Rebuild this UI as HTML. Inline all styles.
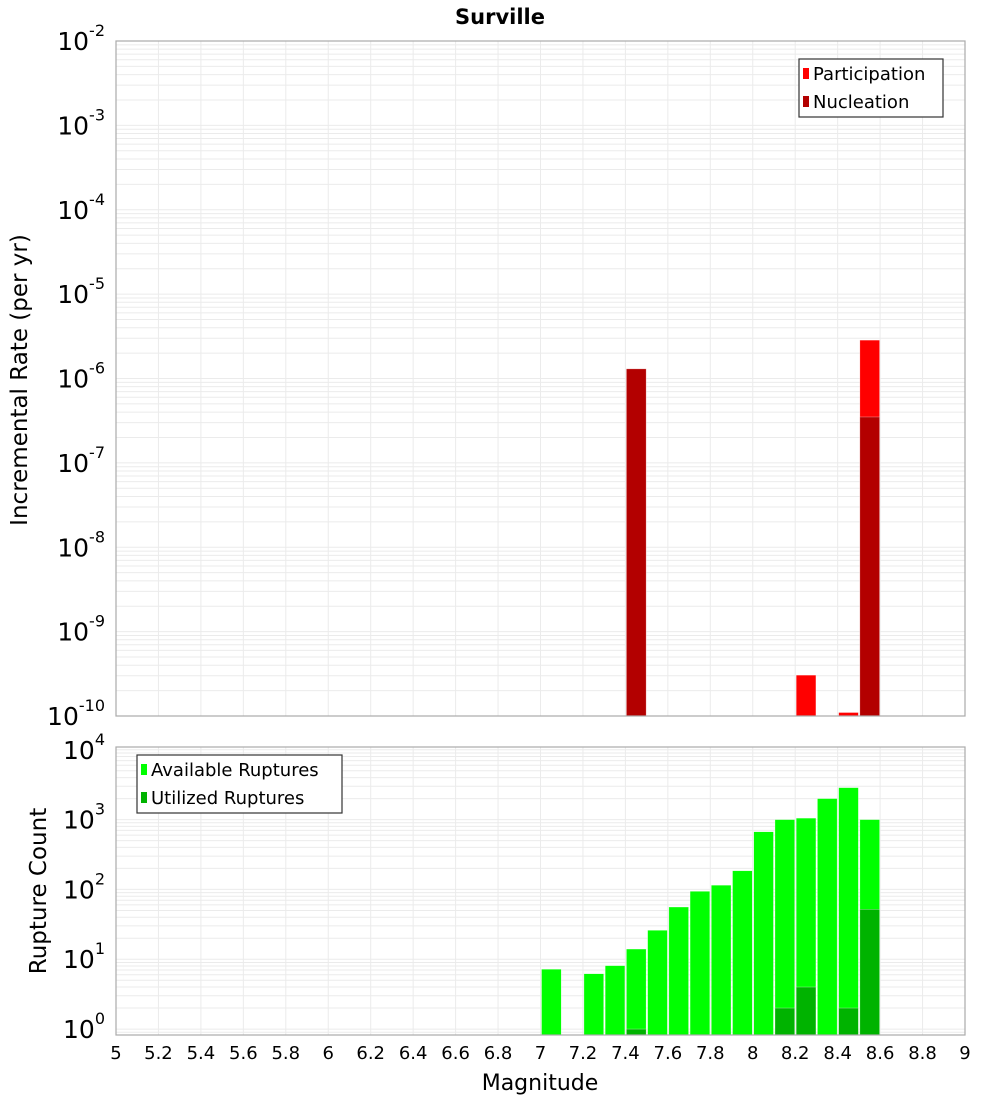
<!DOCTYPE html>
<html><head><meta charset="utf-8"><style>
html,body{margin:0;padding:0;background:#fff}
svg{display:block;font-family:"DejaVu Sans","Liberation Sans",sans-serif}
</style></head><body>
<svg id="chart" width="1000" height="1100" viewBox="0 0 1000 1100" xmlns="http://www.w3.org/2000/svg">
<text x="500" y="24" text-anchor="middle" font-size="21" font-weight="bold">Surville</text>
<g id="top"></g>
<g id="bot"></g>
</svg>
<script>
const mags = [7.05,7.15,7.25,7.35,7.45,7.55,7.65,7.75,7.85,7.95,8.05,8.15,8.25,8.35,8.45,8.55];
const participation = [0,0,0,0,1.3e-6,0,0,0,0,0,0,0,3.05e-10,0,1.1e-10,2.85e-6];
const nucleation = [0,0,0,0,1.3e-6,0,0,0,0,0,0,0,0,0,0,3.5e-7];
const available = [7.2,0,6.2,8.1,14,26,56,94,115,185,670,1000,1050,2000,2870,1000];
const utilized = [0,0,0,0,1,0,0,0,0,0,0,2,4,0,2,52];
const xTicks = [5,5.2,5.4,5.6,5.8,6,6.2,6.4,6.6,6.8,7,7.2,7.4,7.6,7.8,8,8.2,8.4,8.6,8.8,9];
const topDecades = [-2,-3,-4,-5,-6,-7,-8,-9,-10];
const botDecades = [0,1,2,3,4];

const NS='http://www.w3.org/2000/svg';
const X0=116,X1=965;
const xs=m=>X0+(m-5)/4*(X1-X0);
function mk(parent,tag,attrs){const e=document.createElementNS(NS,tag);for(const k in attrs)e.setAttribute(k,attrs[k]);parent.appendChild(e);return e;}

function panel(g,y0,y1,lmin,lmax,name){
  const ys=v=>y1-(Math.log10(v)-lmin)/(lmax-lmin)*(y1-y0);
  const bg=mk(g,'rect',{x:X0,y:y0,width:X1-X0,height:y1-y0,fill:'#fff'});
  
  
  for(let d=Math.floor(lmin);d<=Math.ceil(lmax);d++){for(let k=1;k<10;k++){const v=k*Math.pow(10,d);const l=Math.log10(v);if(l<lmin-1e-9||l>lmax+1e-9)continue;const y=ys(v);
    const gl=mk(g,'line',{x1:X0,x2:X1,y1:y,y2:y,stroke:'#ebebeb','stroke-width':1});
    
    }}
  xTicks.forEach(t=>{const x=xs(t);const gl=mk(g,'line',{x1:x,x2:x,y1:y0,y2:y1,stroke:'#ebebeb','stroke-width':1});
    
    });
  return ys;
}
function bars(g,vals,ys,y1,color,name){
  vals.forEach((v,i)=>{if(!(v>0))return;const xa=xs(mags[i]-0.05)+1,xb=xs(mags[i]+0.05)-0.5;const y=Math.max(ys(v),0);
    const r=mk(g,'rect',{x:xa,y:y,width:xb-xa,height:y1-y,fill:color,stroke:'rgba(255,255,255,0.6)','stroke-width':0.5});
    
    });
}
function border(g,y0,y1,name){const b=mk(g,'rect',{x:X0,y:y0,width:X1-X0,height:y1-y0,fill:'none',stroke:'#aaa','stroke-width':1.2});
  
  }
function ylabels(g,decs,ys,name){decs.forEach(d=>{const y=ys(Math.pow(10,d));
  const t=mk(g,'text',{x:105,y:y+9,'text-anchor':'end','font-size':25});
  
  
  const a=document.createElementNS(NS,'tspan');a.textContent='10';t.appendChild(a);
  const b=document.createElementNS(NS,'tspan');b.setAttribute('font-size','16');b.setAttribute('dy','-14');b.textContent=String(d);t.appendChild(b);});}
function legend(g,x,y,w,items,name){
  const box=mk(g,'rect',{x:x,y:y,width:w,height:58,fill:'#fff',stroke:'#333','stroke-width':1.2});
  
  
  items.forEach((it,i)=>{const sw=mk(g,'rect',{x:x+4,y:y+9+i*28,width:6,height:11,fill:it[1]});
    
    
    const t=mk(g,'text',{x:x+14,y:y+21+i*28,'font-size':18});t.textContent=it[0];
    
    });
}
// top panel
const gt=document.getElementById('top');
const TY0=41,TY1=716;
const ysT=panel(gt,TY0,TY1,-10,-2,'rate');
bars(gt,participation,ysT,TY1,'#ff0000','participation');
bars(gt,nucleation,ysT,TY1,'#b30000','nucleation');
border(gt,TY0,TY1,'rate');
ylabels(gt,topDecades,ysT,'rate');
legend(gt,799,59,144,[['Participation','#ff0000'],['Nucleation','#b30000']],'rate');
const tt=mk(gt,'text',{x:0,y:0,'font-size':23,'text-anchor':'middle',transform:'translate(27,380) rotate(-90)'});
tt.textContent='Incremental Rate (per yr)';


// bottom panel
const gb=document.getElementById('bot');
const BY0=747,BY1=1035;
const ysB=panel(gb,BY0,BY1,-0.085,4.04,'count');
bars(gb,available,ysB,BY1,'#00ff00','available');
bars(gb,utilized,ysB,BY1,'#00b300','utilized');
border(gb,BY0,BY1,'count');
ylabels(gb,botDecades,ysB,'count');
legend(gb,137,755,205,[['Available Ruptures','#00ff00'],['Utilized Ruptures','#00b300']],'count');
const bt=mk(gb,'text',{x:0,y:0,'font-size':23,'text-anchor':'middle',transform:'translate(46,891) rotate(-90)'});
bt.textContent='Rupture Count';


xTicks.forEach(t=>{const e=mk(gb,'text',{x:xs(t),y:1059,'text-anchor':'middle','font-size':18});e.textContent=String(t);
  
  });
const xt=mk(gb,'text',{x:540,y:1090,'text-anchor':'middle','font-size':22});xt.textContent='Magnitude';


</script>
</body></html>
